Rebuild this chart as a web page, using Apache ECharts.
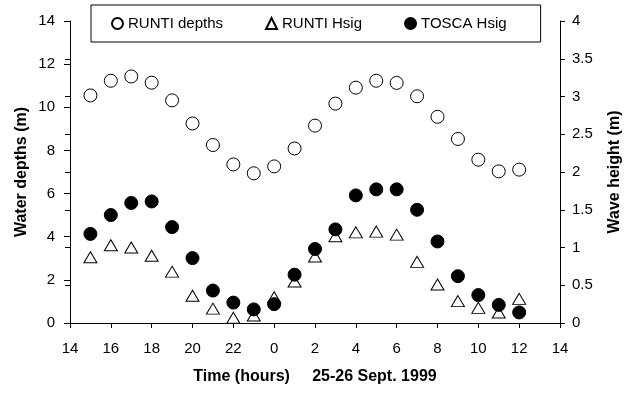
<!DOCTYPE html>
<html>
<head>
<meta charset="utf-8">
<script src="https://cdn.jsdelivr.net/npm/echarts@6/dist/echarts.min.js"></script>
<style>html,body{margin:0;padding:0;background:#fff}#c{width:626px;height:394px}</style>
</head>
<body>
<div id="c"></div>
<script>
// Clock hour of each observation (25-26 Sept. 1999)
const hours = [15,16,17,18,19,20,21,22,23,0,1,2,3,4,5,6,7,8,9,10,11,12];
// RUNTI water depths (m), left axis
const runtiDepths = [10.55,11.23,11.43,11.14,10.32,9.25,8.25,7.35,6.94,7.26,8.09,9.15,10.17,10.91,11.23,11.13,10.51,9.56,8.53,7.57,7.03,7.11];
// RUNTI significant wave height (m), right axis
const runtiHsig = [0.87,1.03,1.00,0.89,0.68,0.36,0.19,0.07,0.10,0.34,0.55,0.88,1.15,1.20,1.21,1.17,0.81,0.51,0.29,0.20,0.14,0.32];
// TOSCA significant wave height (m), right axis
const toscaHsig = [1.18,1.43,1.59,1.61,1.27,0.86,0.43,0.27,0.18,0.25,0.64,0.98,1.24,1.69,1.77,1.77,1.50,1.08,0.62,0.37,0.24,0.14];
const startHour = 14;
const seriesNames = ['RUNTI depths','RUNTI Hsig','TOSCA Hsig'];
const xTitle = 'Time (hours)     25-26 Sept. 1999';
const yLeftTitle = 'Water depths (m)';
const yRightTitle = 'Wave height (m)';

const elapsed = hours.map(h => (h - startHour + 24) % 24);
const pts = arr => arr.map((v, i) => [elapsed[i], v]);

const FONT = 'Arial, "Liberation Sans", sans-serif';
const chart = echarts.init(document.getElementById('c'), null, {renderer: 'canvas'});
const gridPos = {left: 70, right: 66, top: 21, bottom: 71, containLabel: false, outerBoundsMode: 'none'};
chart.setOption({
  animation: false,
  backgroundColor: '#fff',
  textStyle: {fontFamily: FONT, color: '#000'},
  grid: [Object.assign({}, gridPos), Object.assign({}, gridPos)],
  legend: {
    data: seriesNames,
    left: 91, top: 5,
    padding: [11, 34, 11, 20],
    itemGap: 42,
    itemWidth: 11, itemHeight: 11,
    borderColor: '#000', borderWidth: 1,
    backgroundColor: '#fff',
    textStyle: {fontFamily: FONT, fontSize: 15, color: '#000'}
  },
  xAxis: [{
    type: 'value', gridIndex: 0, min: 0, max: 24, interval: 2,
    name: xTitle, nameLocation: 'middle', nameGap: 46, nameMoveOverlap: false,
    nameTextStyle: {fontFamily: FONT, fontSize: 16, fontWeight: 'bold', color: '#000'},
    axisLine: {show: true, onZero: false, lineStyle: {color: '#000', width: 1}},
    axisTick: {show: true, length: 5, lineStyle: {color: '#000'}},
    axisLabel: {fontFamily: FONT, fontSize: 15, color: '#000', margin: 18,
      formatter: v => String((v + startHour) % 24)},
    splitLine: {show: false}
  }, {
    type: 'value', gridIndex: 1, min: 0, max: 24, interval: 2, show: false
  }],
  yAxis: [{
    type: 'value', gridIndex: 0, position: 'left', min: 0, max: 14, interval: 2,
    name: yLeftTitle, nameLocation: 'middle', nameGap: 40, nameMoveOverlap: false,
    nameTextStyle: {fontFamily: FONT, fontSize: 16, fontWeight: 'bold', color: '#000'},
    axisLine: {show: true, lineStyle: {color: '#000', width: 1}},
    axisTick: {show: true, length: 6, lineStyle: {color: '#000'}},
    axisLabel: {fontFamily: FONT, fontSize: 15, color: '#000', margin: 15},
    splitLine: {show: false}
  }, {
    type: 'value', gridIndex: 0, position: 'right', min: 0, max: 4, interval: 0.5,
    name: yRightTitle, nameLocation: 'middle', nameGap: 47, nameMoveOverlap: false,
    nameTextStyle: {fontFamily: FONT, fontSize: 16, fontWeight: 'bold', color: '#000'},
    axisLine: {show: true, lineStyle: {color: '#000', width: 1}},
    axisTick: {show: true, length: 5, lineStyle: {color: '#000'}},
    axisLabel: {fontFamily: FONT, fontSize: 15, color: '#000', margin: 12},
    splitLine: {show: false}
  }, {
    type: 'value', gridIndex: 1, position: 'right', min: 0, max: 4, interval: 0.5,
    axisLine: {show: false},
    axisTick: {show: true, inside: true, length: 5, lineStyle: {color: '#000'}},
    axisLabel: {show: false},
    splitLine: {show: false}
  }],
  series: [{
    name: seriesNames[0], type: 'scatter', xAxisIndex: 0, yAxisIndex: 0,
    symbol: 'circle', symbolSize: 13,
    itemStyle: {color: '#fff', borderColor: '#000', borderWidth: 1, opacity: 1},
    data: pts(runtiDepths), z: 3
  }, {
    name: seriesNames[1], type: 'scatter', xAxisIndex: 0, yAxisIndex: 1,
    symbol: 'triangle', symbolSize: [13, 11],
    itemStyle: {color: '#fff', borderColor: '#000', borderWidth: 1, opacity: 1},
    data: pts(runtiHsig), z: 3
  }, {
    name: seriesNames[2], type: 'scatter', xAxisIndex: 0, yAxisIndex: 1,
    symbol: 'circle', symbolSize: 13,
    itemStyle: {color: '#000', borderColor: '#000', borderWidth: 1, opacity: 1},
    data: pts(toscaHsig), z: 4
  }]
});
</script>
</body>
</html>
